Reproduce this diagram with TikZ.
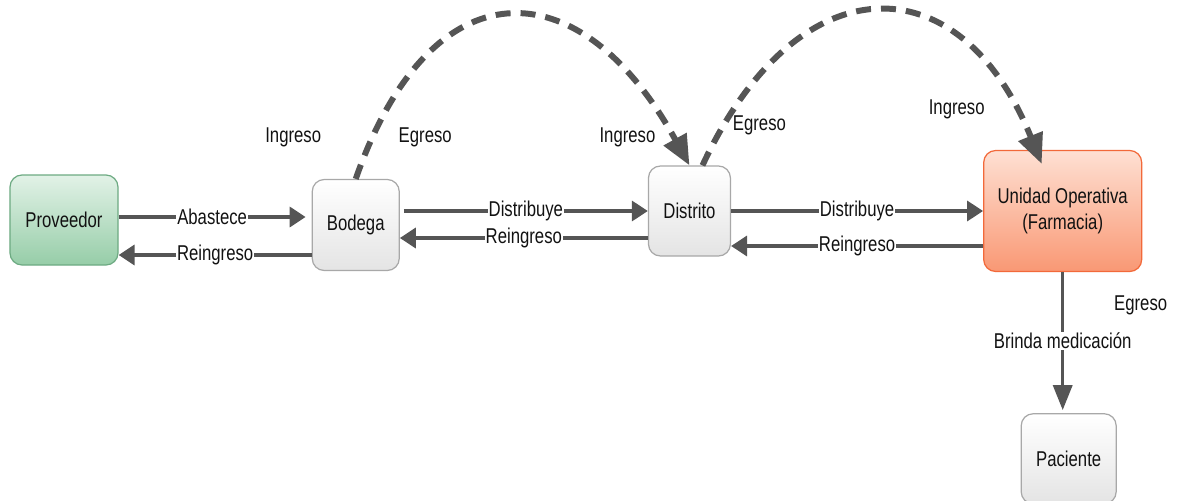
\documentclass[tikz,border=0pt]{standalone}
\usepackage{fontspec}
\setmainfont{Liberation Sans}[FakeStretch=0.78]
\usetikzlibrary{arrows.meta,positioning,calc}

\definecolor{txt}{HTML}{121212}
\definecolor{arrowgray}{HTML}{555555}
\definecolor{boxgray}{HTML}{A8A8A8}
\definecolor{boxfill}{HTML}{E4E4E4}
\definecolor{greenline}{HTML}{6DAA82}
\definecolor{greentop}{HTML}{E2F2E7}
\definecolor{greenbot}{HTML}{96CDA8}
\definecolor{orangeline}{HTML}{F2693A}
\definecolor{orangetop}{HTML}{FEE0D3}
\definecolor{orangebot}{HTML}{F99874}

\begin{document}
\begin{tikzpicture}

	\tikzstyle{entity}=[rectangle,rounded corners=2.4mm,draw=boxgray,line width=0.7pt,
		top color=white,bottom color=boxfill,
		minimum width=1.74cm,minimum height=1.82cm,
		align=center,inner sep=1mm,text=txt,
		font=\fontsize{12.2}{15}\selectfont]
	\tikzstyle{flow}=[-{Triangle[length=3.2mm,width=4mm]},line width=2pt,draw=arrowgray]
	\tikzstyle{move}=[-{Triangle[length=6mm,width=5mm]},line width=3.4pt,draw=arrowgray,
		dash pattern=on 3mm off 2mm]
	\tikzstyle{tag}=[fill=white,inner sep=0.5pt,text=txt,font=\fontsize{12.2}{15}\selectfont]
	\tikzstyle{note}=[inner sep=0pt,text=txt,font=\fontsize{12.2}{15}\selectfont]

	\useasboundingbox (0,0) rectangle (23.56,-10.02);

	\node[entity,draw=greenline,top color=greentop,bottom color=greenbot,
		minimum width=2.16cm,minimum height=1.8cm](proveedor) at (1.28,-4.40){Proveedor};
	\node[entity,right=3.86cm of proveedor,yshift=-0.1cm](bodega){Bodega};
	\node[entity,right=4.96cm of bodega,yshift=0.28cm,
		minimum width=1.64cm,minimum height=1.8cm](distrito){Distrito};
	\node[entity,right=5.04cm of distrito,draw=orangeline,top color=orangetop,bottom color=orangebot,
		minimum width=3.16cm,minimum height=2.42cm](unidad){Unidad Operativa\\(Farmacia)};
	\node[entity,below=2.82cm of unidad,xshift=0.12cm,
		minimum width=1.9cm,minimum height=1.8cm](paciente){Paciente};

	% etiquetas de ingreso / egreso
	\node[note] (ingbodega) at ($(bodega.north)+(-1.25,0.83)$) {Ingreso};
	\node[note] (egrbodega) at ($(bodega.north)+(1.39,0.83)$) {Egreso};
	\node[note] (ingdistrito) at ($(distrito.north)+(-1.24,0.56)$) {Ingreso};
	\node[note] (egrdistrito) at ($(distrito.north)+(1.40,0.80)$) {Egreso};
	\node[note] (ingunidad) at ($(unidad.north)+(-2.12,0.81)$) {Ingreso};
	\node[note] (egrunidad) at ($(unidad.south)+(1.56,-0.67)$) {Egreso};

	\draw[flow] ($(proveedor.east)+(0,0.06)$) -- node[tag]{Abastece} ($(bodega.west|-proveedor.east)+(-0.12,0.06)$);
	\draw[flow] ($(bodega.west)+(0,-0.60)$) -- node[tag]{Reingreso} ($(proveedor.east|-bodega.west)+(0,-0.60)$);
	\draw[flow] ($(bodega.east|-distrito.west)+(0.08,0)$) -- node[tag]{Distribuye} (distrito.west);
	\draw[flow] ($(distrito.west)+(0,-0.54)$) -- node[tag]{Reingreso} ($(bodega.east|-distrito.west)+(0,-0.54)$);
	\draw[flow] (distrito.east) -- node[tag]{Distribuye} (unidad.west);
	\draw[flow] ($(unidad.west)+(0,-0.70)$) -- node[tag]{Reingreso} ($(distrito.east|-unidad.west)+(0,-0.70)$);
	\draw[flow,-{Triangle[length=5mm,width=3.8mm]}] (unidad.south) -- node[tag]{Brinda medicación} ($(unidad.south|-paciente.north)+(0,0.06)$);

	% traslados
	\draw[move] (bodega.north) .. controls +(1.5,4.3) and +(-2.2,4.0) .. (distrito.north);
	\draw[move] ($(distrito.north)+(0.26,0)$) .. controls +(1.9,4.08) and +(-1.64,4.06) .. ($(unidad.north)+(-0.42,-0.28)$);

\end{tikzpicture}
\end{document}
